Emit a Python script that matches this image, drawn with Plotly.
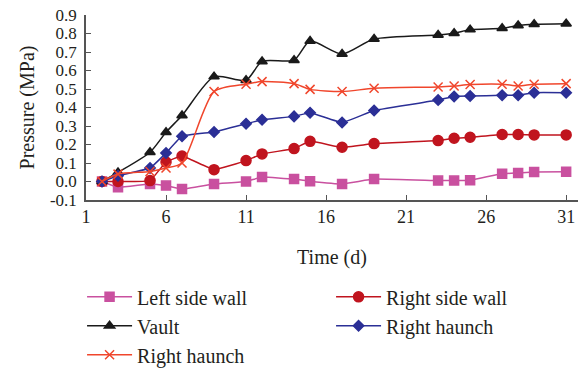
import plotly.graph_objects as go

days = [2, 3, 5, 6, 7, 9, 11, 12, 14, 15, 17, 19, 23, 24, 25, 27, 28, 29, 31]

left_side_wall = [0.0, -0.031, -0.013, -0.022, -0.041, -0.013, 0.0, 0.024, 0.013, 0.002,
                  -0.013, 0.013, 0.005, 0.005, 0.007, 0.042, 0.046, 0.051, 0.053]
right_side_wall = [0.0, 0.0, 0.005, 0.105, 0.138, 0.064, 0.113, 0.149, 0.178, 0.217,
                   0.185, 0.205, 0.221, 0.234, 0.239, 0.254, 0.254, 0.252, 0.252]
vault = [0.0, 0.049, 0.158, 0.266, 0.357, 0.567, 0.547, 0.649, 0.656, 0.759,
         0.689, 0.770, 0.792, 0.801, 0.821, 0.828, 0.843, 0.850, 0.853]
right_haunch_blue = [0.0, 0.031, 0.073, 0.154, 0.245, 0.268, 0.312, 0.334, 0.352, 0.372,
                     0.319, 0.384, 0.440, 0.460, 0.462, 0.466, 0.466, 0.480, 0.480]
right_haunch_red = [0.0, 0.040, 0.054, 0.073, 0.100, 0.486, 0.526, 0.540, 0.529, 0.498,
                    0.486, 0.504, 0.511, 0.516, 0.524, 0.526, 0.516, 0.526, 0.529]

x_ticks = [1, 6, 11, 16, 21, 26, 31]
y_ticks = [-0.1, 0.0, 0.1, 0.2, 0.3, 0.4, 0.5, 0.6, 0.7, 0.8, 0.9]
y_ticklabels = ["-0.1", "0.0", "0.1", "0.2", "0.3", "0.4", "0.5", "0.6", "0.7", "0.8", "0.9"]

FONT = "Liberation Serif"

series = [
    ("Left side wall", left_side_wall, "#C9509F", "square", 9, 0.3),
    ("Right side wall", right_side_wall, "#C0141E", "circle", 10, 0.3),
    ("Vault", vault, "#1A1A1A", "triangle-up", 9, 0.7),
    ("Right haunch", right_haunch_blue, "#2B2F96", "diamond", 8, 0.3),
    ("Right haunch", right_haunch_red, "#F0462C", "x-thin-open", 9, 0.7),
]

fig = go.Figure()
for name, vals, color, sym, size, sm in series:
    fig.add_trace(go.Scatter(
        x=days, y=vals, name=name, mode="lines+markers",
        line=dict(color=color, width=1.5, shape="spline", smoothing=sm),
        marker=dict(symbol=sym, size=size, color=color,
                    line=dict(color=color, width=1.5)),
    ))

fig.update_layout(
    width=578, height=375,
    margin=dict(l=86, r=0, t=15, b=175, autoexpand=False),
    paper_bgcolor="white", plot_bgcolor="white",
    font=dict(family=FONT, size=17, color="#231F20"),
    xaxis=dict(
        range=[1, 31.74], tickvals=x_ticks, ticks="inside", ticklen=5,
        tickcolor="#555555", showline=True, linecolor="#555555", linewidth=1.5,
        showgrid=False, zeroline=False, tickfont=dict(size=18),
        title=dict(text="Time (d)", font=dict(size=20), standoff=24),
    ),
    yaxis=dict(
        range=[-0.1, 0.9], tickvals=y_ticks, ticktext=y_ticklabels,
        ticks="inside", ticklen=5, tickcolor="#555555",
        showline=True, linecolor="#555555", linewidth=1.5,
        showgrid=False, zeroline=False, tickfont=dict(size=17),
        ticklabelstandoff=4,
        title=dict(text="Pressure (MPa)", font=dict(size=20), standoff=10),
    ),
    legend=dict(
        orientation="h", x=-0.008, xanchor="left", y=-0.418, yanchor="top",
        entrywidth=189, entrywidthmode="pixels", itemwidth=45,
        font=dict(size=20, family=FONT), traceorder="normal",
        bgcolor="rgba(0,0,0,0)", tracegroupgap=0,
    ),
    showlegend=True,
)

fig.write_html("out.html", config={"displayModeBar": False},
               post_script="document.body.style.margin='0';")
